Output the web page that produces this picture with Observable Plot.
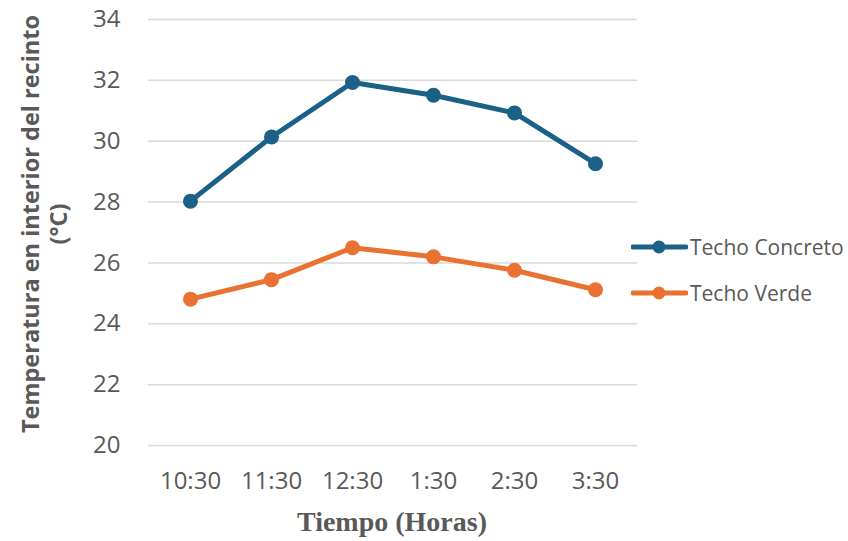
<!DOCTYPE html>
<html>
<head>
<meta charset="utf-8">
<script src="https://cdn.jsdelivr.net/npm/d3@7"></script>
<script src="https://cdn.jsdelivr.net/npm/@observablehq/plot@0.6"></script>
<style>
  html, body { margin: 0; padding: 0; background: #fff; }
  #wrap { position: relative; width: 848px; height: 541px; font-family: "Open Sans", sans-serif; }
  .ylab { position: absolute; left: 44px; top: 224px; transform: translate(-50%, -50%) rotate(-90deg); white-space: nowrap; text-align: center;
          font-family: "Open Sans", sans-serif; font-weight: bold; font-size: 23.5px; line-height: 28px; color: #595959; }
  .xlab { position: absolute; left: 392px; top: 522px; transform: translate(-50%, -50%); white-space: nowrap;
          font-family: "Liberation Serif", serif; font-weight: bold; font-size: 28px; color: #595959; }
  .leg { position: absolute; left: 631px; font-size: 21px; color: #595959; display: flex; align-items: center; white-space: nowrap; }
  .leg svg { display: block; }
</style>
</head>
<body>
<div id="wrap"></div>
<script>
const times = ["10:30", "11:30", "12:30", "1:30", "2:30", "3:30"];
const concreto = [28.03, 30.14, 31.93, 31.51, 30.93, 29.26];
const verde = [24.81, 25.45, 26.5, 26.2, 25.76, 25.12];
const seriesNames = ["Techo Concreto", "Techo Verde"];
const seriesColors = ["#1B6086", "#E97232"];
const yTicks = [20, 22, 24, 26, 28, 30, 32, 34];

const data = [];
times.forEach((t, i) => {
  data.push({time: t, value: concreto[i], series: seriesNames[0]});
  data.push({time: t, value: verde[i], series: seriesNames[1]});
});

const chart = Plot.plot({
  width: 848,
  height: 541,
  marginLeft: 148,
  marginRight: 211,
  marginTop: 19,
  marginBottom: 96,
  style: {fontFamily: "Open Sans, sans-serif", fontSize: "20px", color: "#595959", background: "transparent"},
  x: {type: "point", domain: times, padding: 0.5, label: null},
  y: {domain: [20, 34], label: null},
  color: {domain: seriesNames, range: seriesColors},
  marks: [
    Plot.gridY(yTicks, {stroke: "#d9d9d9", strokeOpacity: 1, strokeWidth: 1.5}),
    Plot.axisY(yTicks, {tickSize: 0, tickPadding: 28, fontSize: 24, fill: "#595959"}),
    Plot.axisX({tickSize: 0, tickPadding: 26, fontSize: 24, fill: "#595959"}),
    Plot.line(data, {x: "time", y: "value", z: "series", stroke: "series", strokeWidth: 5}),
    Plot.dot(data, {x: "time", y: "value", fill: "series", r: 7.5})
  ]
});

const wrap = document.getElementById("wrap");
wrap.appendChild(chart);

const yl = document.createElement("div");
yl.className = "ylab";
yl.innerHTML = "Temperatura en interior del recinto<br>(°C)";
wrap.appendChild(yl);

const xl = document.createElement("div");
xl.className = "xlab";
xl.textContent = "Tiempo (Horas)";
wrap.appendChild(xl);

const legTops = [247, 293];
seriesNames.forEach((name, i) => {
  const d = document.createElement("div");
  d.className = "leg";
  d.style.top = (legTops[i] - 15) + "px";
  d.style.height = "30px";
  d.innerHTML = `<svg width="57" height="14"><line x1="2" y1="7" x2="55" y2="7" stroke="${seriesColors[i]}" stroke-width="5" stroke-linecap="round"/><circle cx="28" cy="7" r="6.5" fill="${seriesColors[i]}"/></svg><span style="margin-left:2px">${name}</span>`;
  wrap.appendChild(d);
});
</script>
</body>
</html>
